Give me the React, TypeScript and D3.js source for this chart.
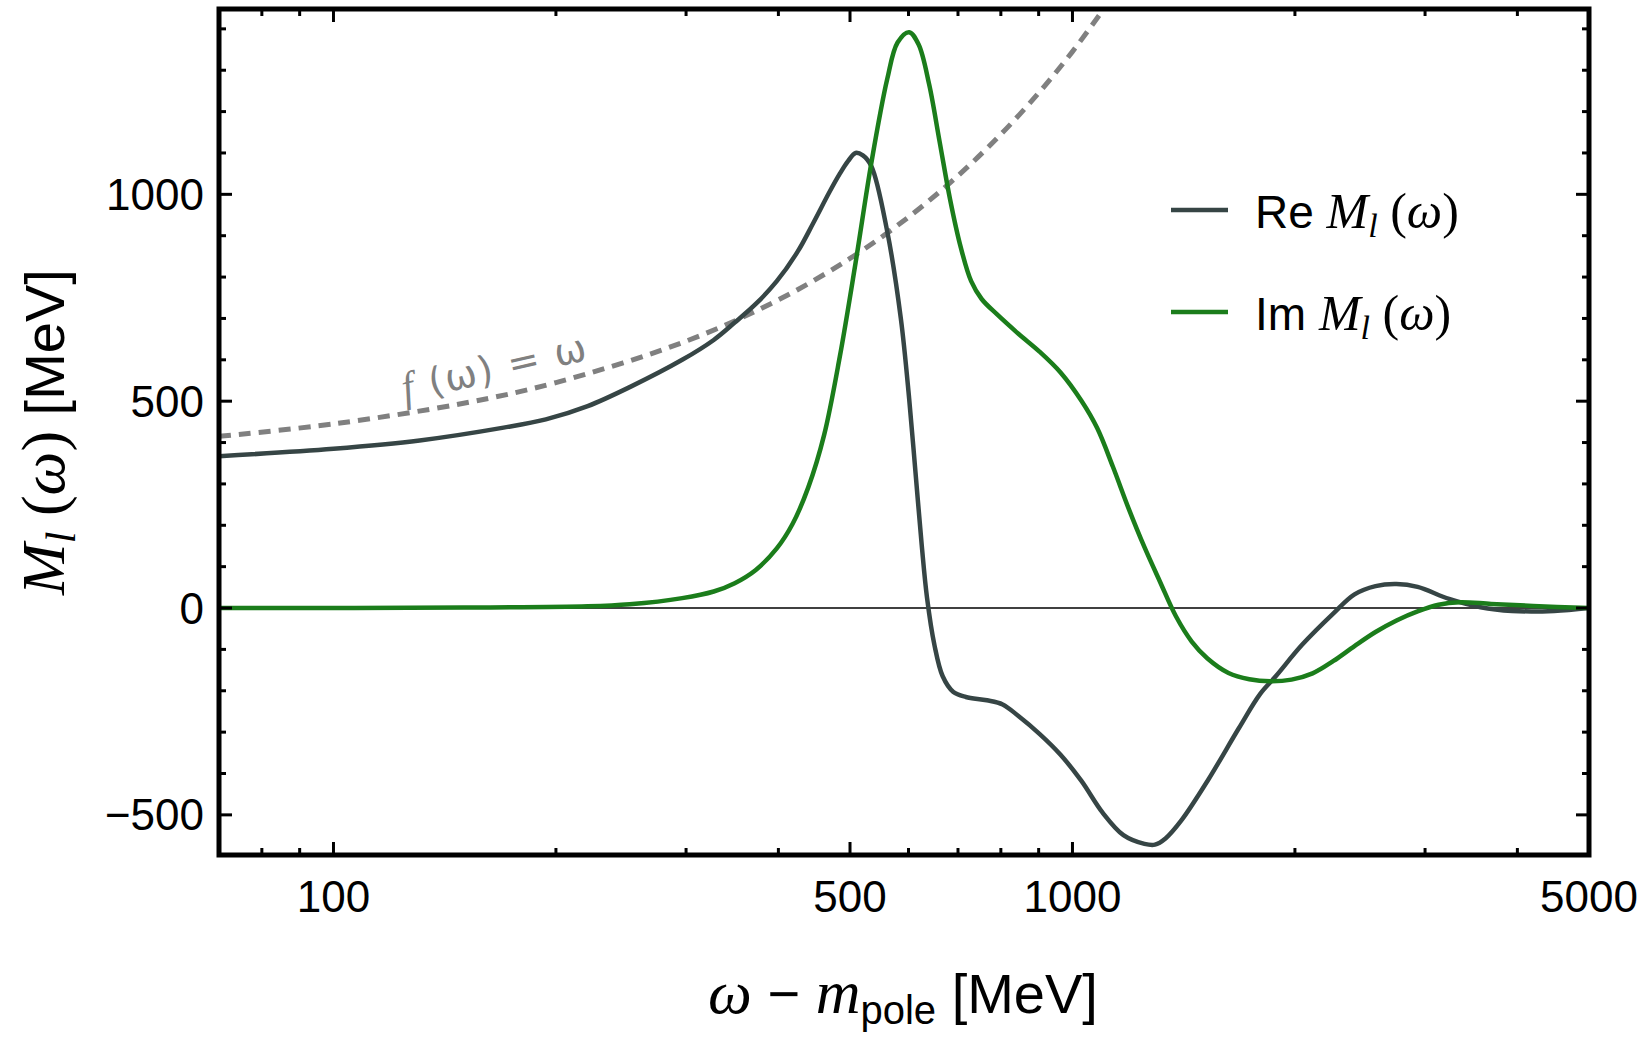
import React from "react";
import * as d3 from "d3";

// ---------- data ----------
const reX = [70, 100, 130.8, 169.9, 193.8, 220.8, 251.7, 296.4, 327, 349.1, 372.8, 398, 424.9, 446.3, 468.8, 484.4, 497.2, 508.8, 520.4, 534.4, 561.4, 585.8, 601.2, 613.1, 625.2, 635.6, 650.4, 667.4, 690, 717.4, 765.9, 804.5, 845, 902.3, 962.9, 1028.3, 1097.8, 1172.1, 1251.5, 1293.1, 1336.2, 1403.1, 1523, 1680, 1794, 1884, 2045, 2255, 2408, 2571, 2745, 2931, 3233, 3566, 3935, 4485, 5000];
const reY = [367, 385, 405, 436, 456, 488, 534, 600, 648, 690, 735, 790, 862, 932, 1005, 1050, 1081, 1100, 1094, 1068, 911, 700, 506, 329, 152, 25, -89, -165, -203, -215, -223, -233, -261, -304, -354, -418, -494, -549, -570, -572, -557, -514, -418, -290, -208, -165, -89, -13, 33, 53, 58, 51, 22, 2, -7, -7, 0];

const imX = [70, 150, 220.8, 251.7, 296.4, 327, 349.1, 372.8, 398, 418, 438.9, 461.2, 484.4, 508.8, 534.4, 561.4, 579.9, 601.2, 619.2, 639.8, 661.1, 683.1, 705.8, 729.3, 753.5, 791.4, 845, 902.3, 962.9, 1028.3, 1080, 1134, 1191, 1251.5, 1314, 1380.4, 1450, 1523, 1626, 1735, 1853, 1979, 2113, 2255, 2408, 2571, 2745, 2931, 3129, 3341, 3686, 4201, 5000];
const imY = [0, 1, 4, 9, 24, 40, 60, 92, 144, 203, 291, 418, 608, 835, 1076, 1278, 1367, 1392, 1362, 1266, 1127, 987, 873, 790, 747, 709, 663, 620, 570, 501, 435, 342, 241, 147, 63, -20, -81, -122, -157, -172, -177, -173, -158, -128, -92, -58, -30, -8, 8, 14, 10, 5, 0];

const refX = [70, 100, 150, 200, 300, 400, 500, 600, 700, 800, 900, 1000, 1120];
const refY = [415, 445, 495, 545, 645, 745, 845, 945, 1045, 1145, 1245, 1345, 1465];

const xMajorTicks = [100, 500, 1000, 5000];
const xMinorTicks = [80, 90, 200, 300, 400, 600, 700, 800, 900, 2000, 3000, 4000];
const yMajorTicks = [-500, 0, 500, 1000];
const yMinorTicks = [-400, -300, -200, -100, 100, 200, 300, 400, 600, 700, 800, 900, 1100, 1200, 1300, 1400];

const xDomain = [70, 5000];
const yDomain = [-597, 1448];

// ---------- layout ----------
const W = 1644;
const H = 1038;
const L = 219, R = 1589, T = 9, B = 855;

const RE_COLOR = "#364545";
const IM_COLOR = "#1b7d1b";
const SANS = "'Liberation Sans', Arial, Helvetica, sans-serif";
const SERIF = "'Liberation Serif', 'Times New Roman', serif";

export default function App() {
  const x = d3.scaleLog().domain(xDomain).range([L, R]);
  const y = d3.scaleLinear().domain(yDomain).range([B, T]);

  const line = d3
    .line<[number, number]>()
    .x((d) => x(d[0]))
    .y((d) => y(d[1]))
    .curve(d3.curveCatmullRom.alpha(0.5));

  const rePts = reX.map((v, i) => [v, reY[i]] as [number, number]);
  const imPts = imX.map((v, i) => [v, imY[i]] as [number, number]);
  const refPts = refX.map((v, i) => [v, refY[i]] as [number, number]);

  const fmt = (v: number) => (v < 0 ? "\u2212" + Math.abs(v) : String(v));

  return (
    <svg width={W} height={H} style={{ position: "absolute", left: 0, top: 0, background: "#fff" }}>
      <defs>
        <clipPath id="plotClip">
          <rect x={L} y={T} width={R - L} height={B - T} />
        </clipPath>
      </defs>
      <rect x={0} y={0} width={W} height={H} fill="#fff" />

      <g clipPath="url(#plotClip)">
        <line x1={L} x2={R} y1={y(0)} y2={y(0)} stroke="#000" strokeWidth={1.6} />
        <path d={line(refPts) || ""} fill="none" stroke="#808080" strokeWidth={5} strokeDasharray="12 8" />
        <path d={line(rePts) || ""} fill="none" stroke={RE_COLOR} strokeWidth={4.5} strokeLinejoin="round" />
        <path d={line(imPts) || ""} fill="none" stroke={IM_COLOR} strokeWidth={4.5} strokeLinejoin="round" />
      </g>

      {/* f(ω)=ω label */}
      <text
        transform="translate(405,402) rotate(-13)"
        fill="#808080"
        fontSize={38}
        fontFamily="'DejaVu Sans', sans-serif"
        textLength={188}
        lengthAdjust="spacing"
      >
        <tspan fontFamily={SERIF} fontStyle="italic" fontSize={42}>f</tspan>
        <tspan> (ω) = ω</tspan>
      </text>

      {/* ticks */}
      <g stroke="#000" strokeWidth={3}>
        {xMajorTicks.map((t) => (
          <g key={"xM" + t}>
            <line x1={x(t)} x2={x(t)} y1={B} y2={B - 13} />
            <line x1={x(t)} x2={x(t)} y1={T} y2={T + 13} />
          </g>
        ))}
        {xMinorTicks.map((t) => (
          <g key={"xm" + t}>
            <line x1={x(t)} x2={x(t)} y1={B} y2={B - 7} />
            <line x1={x(t)} x2={x(t)} y1={T} y2={T + 7} />
          </g>
        ))}
        {yMajorTicks.map((t) => (
          <g key={"yM" + t}>
            <line x1={L} x2={L + 13} y1={y(t)} y2={y(t)} />
            <line x1={R} x2={R - 13} y1={y(t)} y2={y(t)} />
          </g>
        ))}
        {yMinorTicks.map((t) => (
          <g key={"ym" + t}>
            <line x1={L} x2={L + 7} y1={y(t)} y2={y(t)} />
            <line x1={R} x2={R - 7} y1={y(t)} y2={y(t)} />
          </g>
        ))}
      </g>

      {/* frame */}
      <rect x={L} y={T} width={R - L} height={B - T} fill="none" stroke="#000" strokeWidth={5} />

      {/* tick labels */}
      <g fontFamily={SANS} fontSize={44} fill="#000">
        {xMajorTicks.map((t) => (
          <text key={"xl" + t} x={x(t)} y={912} textAnchor="middle">
            {t}
          </text>
        ))}
        {yMajorTicks.map((t) => (
          <text key={"yl" + t} x={204} y={y(t)} textAnchor="end" dominantBaseline="central">
            {fmt(t)}
          </text>
        ))}
      </g>

      {/* x axis title */}
      <text x={903} y={1013} textAnchor="middle" fontFamily={SANS} fontSize={56} fill="#000">
        <tspan fontFamily={SERIF} fontStyle="italic" fontSize={62}>ω</tspan>
        <tspan> − </tspan>
        <tspan fontFamily={SERIF} fontStyle="italic" fontSize={62}>m</tspan>
        <tspan fontSize={40} dy={11}>pole</tspan>
        <tspan dy={-11}> [MeV]</tspan>
      </text>

      {/* y axis title */}
      <text
        transform={`translate(64,${(T + B) / 2}) rotate(-90)`}
        textAnchor="middle"
        fontFamily={SANS}
        fontSize={56}
        fill="#000"
      >
        <tspan fontFamily={SERIF} fontStyle="italic" fontSize={62}>M</tspan>
        <tspan fontFamily={SERIF} fontStyle="italic" fontSize={42} dy={11}>l</tspan>
        <tspan fontFamily={SERIF} fontSize={62} dy={-11}> (</tspan>
        <tspan fontFamily={SERIF} fontStyle="italic" fontSize={62}>ω</tspan>
        <tspan fontFamily={SERIF} fontSize={62}>)</tspan>
        <tspan>  [MeV]</tspan>
      </text>

      {/* legend */}
      {[
        { label: "Re", color: RE_COLOR, yLine: 210 },
        { label: "Im", color: IM_COLOR, yLine: 312 },
      ].map((d) => (
        <g key={d.label}>
          <line x1={1171} x2={1228} y1={d.yLine} y2={d.yLine} stroke={d.color} strokeWidth={4.5} />
          <text x={1255} y={d.yLine + 18} fontFamily={SANS} fontSize={46} fill="#000">
            <tspan>{d.label} </tspan>
            <tspan fontFamily={SERIF} fontStyle="italic" fontSize={50}>M</tspan>
            <tspan fontFamily={SERIF} fontStyle="italic" fontSize={34} dy={9}>l</tspan>
            <tspan fontFamily={SERIF} fontSize={50} dy={-9}> (</tspan>
            <tspan fontFamily={SERIF} fontStyle="italic" fontSize={50}>ω</tspan>
            <tspan fontFamily={SERIF} fontSize={50}>)</tspan>
          </text>
        </g>
      ))}
    </svg>
  );
}
